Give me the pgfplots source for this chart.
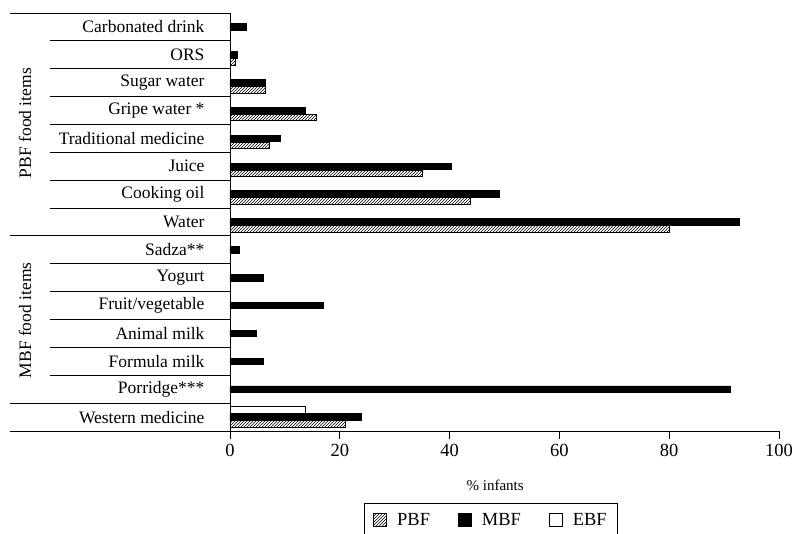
\documentclass[border=0pt]{standalone}
\usepackage{fontspec}
\setmainfont{Liberation Serif}
\usepackage{pgfplots}
\pgfplotsset{compat=1.18}
\usetikzlibrary{patterns}
\begin{document}
\begin{tikzpicture}[x=1pt,y=1pt]
\useasboundingbox (-230,-102) rectangle (562,431);
\begin{axis}[
  at={(0,0)}, anchor=south west,
  width=549pt, height=418pt, scale only axis,
  xmin=0, xmax=100, ymin=-0.5, ymax=14.5,
  xbar, bar width=6.5pt,
  axis x line*=bottom, axis y line*=left,
  axis line style={line width=0.9pt},
  every tick/.style={line width=0.9pt, black},
  tick align=outside,
  xtick={0,20,...,100},
  major tick length=8pt,
  ytick={0,...,14},
  ytick style={draw=none},
  yticklabels={Western medicine, Porridge***, Formula milk, Animal milk, Fruit/vegetable, Yogurt, Sadza**, Water, Cooking oil, Juice, Traditional medicine, Gripe water *, Sugar water, ORS, Carbonated drink},
  /pgf/number format/assume math mode=true,
  yticklabel style={anchor=east, xshift=-14pt, font=\fontsize{17.5}{20}\selectfont},
  xticklabel style={yshift=-2pt, font=\fontsize{18.5}{20}\selectfont},
  xlabel={\% infants},
  xlabel style={font=\fontsize{15}{18}\selectfont, at={(axis description cs:0.483,0)}, anchor=center, yshift=-54pt},
  legend columns=3,
  legend style={at={(axis description cs:0.244,-0.172)}, anchor=north west, draw=black, line width=0.9pt,
    font=\fontsize{18.5}{20}\selectfont, inner xsep=9pt, inner ysep=8pt,
    /tikz/every odd column/.append style={column sep=8pt},
    /tikz/every even column/.append style={column sep=26pt}},
  legend image code/.code={\draw[#1, line width=0.8pt] (0pt,-6.5pt) rectangle (13pt,6.5pt);},
  clip=false,
]
\addplot[draw=black, line width=0.8pt, pattern=north east lines, bar shift=-7pt] coordinates {
  (21.0,0) (80.0,7) (43.7,8) (35.1,9) (7.2,10) (15.8,11) (6.5,12) (1.0,13)
};
\addlegendentry{PBF}
\addplot[draw=black, fill=black, line width=0.8pt, bar shift=0pt] coordinates {
  (24.0,0) (91.1,1) (6.1,2) (4.9,3) (17.0,4) (6.1,5) (1.7,6) (92.7,7) (49.1,8) (40.3,9) (9.2,10) (13.8,11) (6.5,12) (1.4,13) (2.9,14)
};
\addlegendentry{MBF}
\addplot[draw=black, fill=white, line width=0.8pt, bar shift=7pt] coordinates {
  (13.8,0)
};
\addlegendentry{EBF}
% row separators
\draw[line width=0.9pt] (axis cs:0,1.5) -- ++(-180pt,0pt);
\draw[line width=0.9pt] (axis cs:0,2.5) -- ++(-180pt,0pt);
\draw[line width=0.9pt] (axis cs:0,3.5) -- ++(-180pt,0pt);
\draw[line width=0.9pt] (axis cs:0,4.5) -- ++(-180pt,0pt);
\draw[line width=0.9pt] (axis cs:0,5.5) -- ++(-180pt,0pt);
\draw[line width=0.9pt] (axis cs:0,7.5) -- ++(-180pt,0pt);
\draw[line width=0.9pt] (axis cs:0,8.5) -- ++(-180pt,0pt);
\draw[line width=0.9pt] (axis cs:0,9.5) -- ++(-180pt,0pt);
\draw[line width=0.9pt] (axis cs:0,10.5) -- ++(-180pt,0pt);
\draw[line width=0.9pt] (axis cs:0,11.5) -- ++(-180pt,0pt);
\draw[line width=0.9pt] (axis cs:0,12.5) -- ++(-180pt,0pt);
\draw[line width=0.9pt] (axis cs:0,13.5) -- ++(-180pt,0pt);
\draw[line width=0.9pt] (axis cs:0,-0.5) -- ++(-220pt,0pt);
\draw[line width=0.9pt] (axis cs:0,0.5) -- ++(-220pt,0pt);
\draw[line width=0.9pt] (axis cs:0,6.5) -- ++(-220pt,0pt);
\draw[line width=0.9pt] (axis cs:0,14.5) -- ++(-220pt,0pt);
\node[rotate=90, font=\fontsize{17.5}{20}\selectfont] at ([xshift=-205pt]axis cs:0,10.55) {PBF food items};
\node[rotate=90, font=\fontsize{17.5}{20}\selectfont] at ([xshift=-205pt]axis cs:0,3.47) {MBF food items};
\end{axis}
\end{tikzpicture}
\end{document}
